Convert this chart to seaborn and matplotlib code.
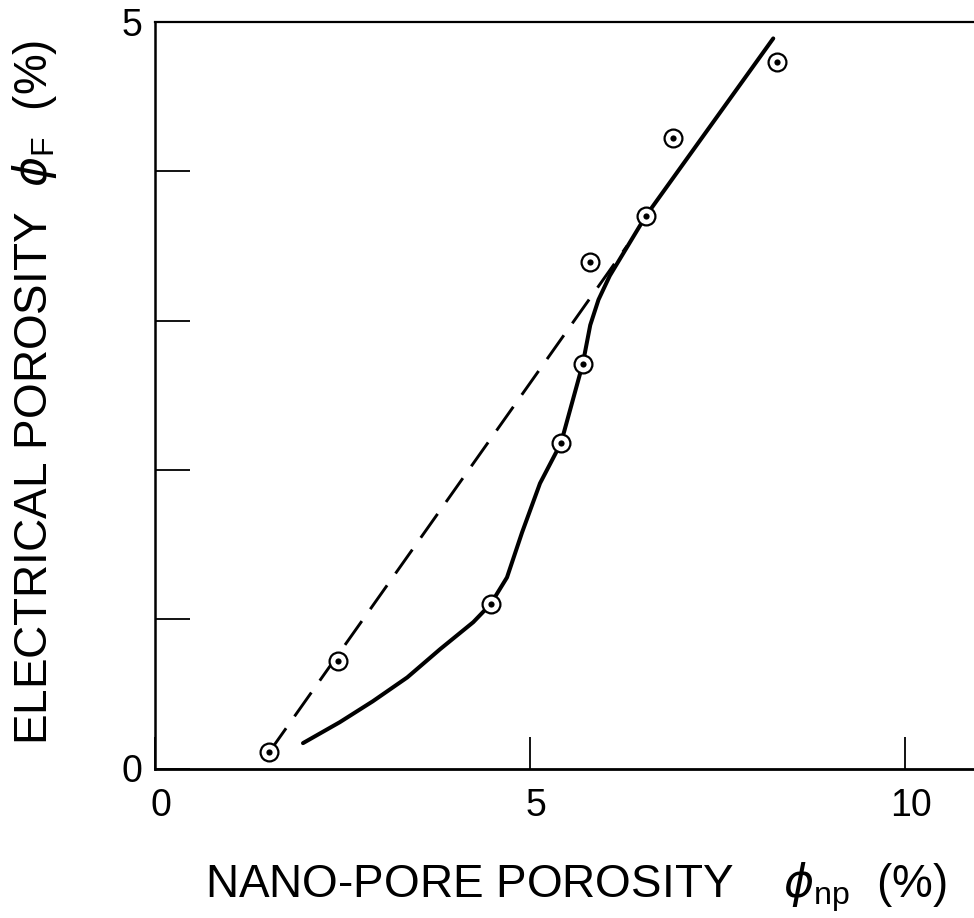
import matplotlib
matplotlib.use("Agg")
import matplotlib.pyplot as plt
import matplotlib.transforms as mtransforms
import seaborn as sns
import pandas as pd

# measured data points (nano-pore porosity vs electrical porosity, %)
pts_x = [1.53, 2.44, 4.48, 5.42, 5.71, 5.81, 6.55, 6.91, 8.30]
pts_y = [0.11, 0.72, 1.10, 2.18, 2.71, 3.39, 3.70, 4.22, 4.73]

# solid curve
curve_x = [1.98, 2.47, 2.91, 3.37, 3.81, 4.25, 4.48, 4.70, 4.90, 5.14, 5.42, 5.71, 5.81, 5.92, 6.07, 6.55, 8.25]
curve_y = [0.17, 0.31, 0.45, 0.61, 0.80, 0.98, 1.10, 1.28, 1.58, 1.91, 2.18, 2.71, 2.97, 3.14, 3.30, 3.70, 4.89]

# dashed line endpoints
dash_x = [1.53, 6.30]
dash_y = [0.11, 3.50]

xticks = [0, 5, 10]
xticklabels = ["0", "5", "10"]
yticks = [0, 1, 2, 3, 4, 5]
yticklabels = ["0", "", "", "", "", "5"]

sns.set_theme(style="white")
plt.rcParams["font.family"] = ["Liberation Sans", "DejaVu Sans"]
plt.rcParams["mathtext.fontset"] = "custom"
plt.rcParams["mathtext.rm"] = "Liberation Sans"
plt.rcParams["mathtext.it"] = "DejaVu Sans:italic"
plt.rcParams["mathtext.bf"] = "Liberation Sans:bold"

fig = plt.figure(figsize=(9.74, 9.18), dpi=100)
ax = fig.add_axes([154.5 / 974, (918 - 768.5) / 918, 825 / 974, 746.5 / 918])

pts = pd.DataFrame({"x": pts_x, "y": pts_y})
curve = pd.DataFrame({"x": curve_x, "y": curve_y})
dash = pd.DataFrame({"x": dash_x, "y": dash_y})

sns.lineplot(data=curve, x="x", y="y", ax=ax, color="black", lw=2.9, sort=False, zorder=3)
sns.lineplot(data=dash, x="x", y="y", ax=ax, color="black", lw=2.1, sort=False, zorder=2)
ax.lines[-1].set_dashes([10, 5])
sns.scatterplot(data=pts, x="x", y="y", ax=ax, s=165, facecolor="white", edgecolor="black",
                linewidth=1.6, zorder=4)
sns.scatterplot(data=pts, x="x", y="y", ax=ax, s=20, color="black", edgecolor="black",
                linewidth=0, zorder=5)

ax.set_xlim(0, 11)
ax.set_ylim(0, 5)
ax.set_xticks(xticks)
ax.set_xticklabels(xticklabels)
ax.set_yticks(yticks)
ax.set_yticklabels(yticklabels)
ax.set_xlabel("")
ax.set_ylabel("")

ax.tick_params(axis="x", direction="in", length=23, width=1.3, color="black",
               labelsize=27, pad=14, bottom=True, top=False, labelcolor="black")
ax.tick_params(axis="y", direction="in", length=25, width=1.3, color="black",
               labelsize=27, pad=9, left=True, right=False, labelcolor="black")
for lbl in ax.get_xticklabels():
    lbl.set_transform(lbl.get_transform() + mtransforms.ScaledTranslation(6 / 100, 0, fig.dpi_scale_trans))

for side in ["left", "bottom", "top"]:
    ax.spines[side].set_visible(True)
    ax.spines[side].set_color("black")
ax.spines["left"].set_linewidth(1.8)
ax.spines["bottom"].set_linewidth(2.0)
ax.spines["top"].set_linewidth(1.6)
ax.spines["right"].set_visible(False)

fig.text(205 / 974, 1 - 897 / 918, "NANO-PORE POROSITY    $\\phi_{\\rm np}$  (%)",
         ha="left", va="baseline", fontsize=33, color="black")
fig.text(35 / 974, 1 - 392 / 918, "ELECTRICAL POROSITY  $\\phi_{\\rm F}$  (%)",
         ha="center", va="center", rotation=90, fontsize=33, color="black")

fig.savefig("out.png", dpi=100)
